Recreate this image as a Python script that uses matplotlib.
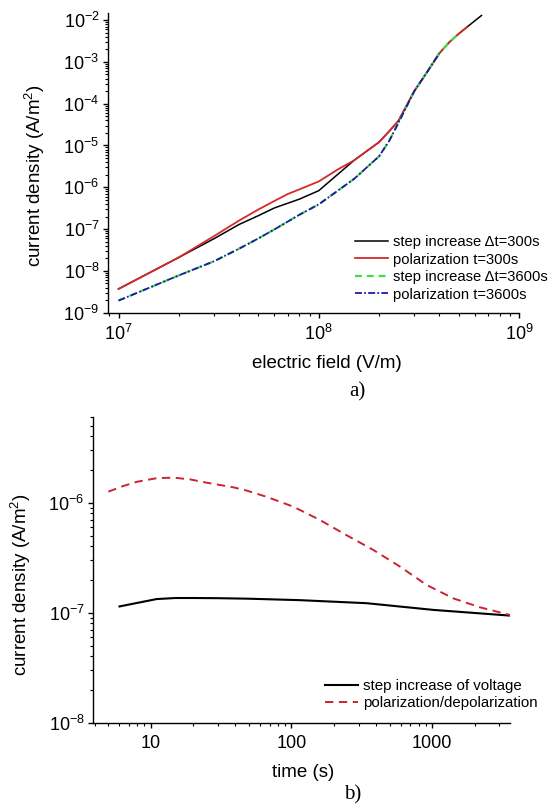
import matplotlib
matplotlib.use('Agg')
import matplotlib.pyplot as plt
from matplotlib.ticker import LogLocator, NullFormatter, LogFormatterSciNotation, FixedLocator, FixedFormatter

plt.rcParams['font.family'] = ['Liberation Sans', 'DejaVu Sans']
plt.rcParams['mathtext.fontset'] = 'custom'
plt.rcParams['mathtext.rm'] = 'Liberation Sans'
plt.rcParams['mathtext.it'] = 'Liberation Sans:italic'
plt.rcParams['lines.scale_dashes'] = False

# ---------------- data: panel a) ----------------
field_step_300 = [1e7, 2e7, 3e7, 4e7, 5e7, 6e7, 8e7, 1e8, 1.5e8, 2e8, 2.25e8, 2.5e8,
                  3e8, 3.5e8, 4e8, 4.5e8, 5e8, 5.5e8, 6e8, 6.5e8]
j_step_300 = [3.7e-9, 2.1e-8, 5.9e-8, 1.29e-7, 2.1e-7, 3.2e-7, 5.2e-7, 8.3e-7, 4.4e-6,
              1.2e-5, 2.2e-5, 3.9e-5, 2.0e-4, 6.0e-4, 1.6e-3, 3.0e-3, 4.7e-3, 6.8e-3,
              9.5e-3, 1.29e-2]

field_pol_300 = [1e7, 1.5e7, 2e7, 3e7, 4e7, 5e7, 6e7, 7e7, 8e7, 1e8, 1.25e8, 1.5e8, 2e8,
                 2.25e8, 2.5e8, 3e8, 3.5e8, 4e8, 4.5e8, 5e8, 5.5e8]
j_pol_300 = [3.7e-9, 1.02e-8, 2.1e-8, 6.8e-8, 1.6e-7, 2.95e-7, 4.7e-7, 6.9e-7, 8.9e-7,
             1.38e-6, 2.7e-6, 4.4e-6, 1.2e-5, 2.2e-5, 3.9e-5, 2.0e-4, 6.0e-4, 1.6e-3,
             3.0e-3, 4.7e-3, 6.8e-3]

field_step_3600 = [1e7, 2e7, 3e7, 4e7, 5e7, 6e7, 8e7, 1e8, 1.5e8, 2e8, 2.25e8, 2.5e8,
                   3e8, 3.5e8, 4e8, 4.5e8, 5e8]
j_step_3600 = [1.95e-9, 7.8e-9, 1.7e-8, 3.4e-8, 6.0e-8, 9.8e-8, 2.2e-7, 3.9e-7, 1.58e-6,
               5.5e-6, 1.3e-5, 3.5e-5, 2.0e-4, 6.0e-4, 1.6e-3, 3.0e-3, 4.7e-3]

field_pol_3600 = [1e7, 2e7, 3e7, 4e7, 5e7, 6e7, 8e7, 1e8, 1.5e8, 2e8, 2.25e8, 2.5e8,
                  3e8, 3.5e8, 4e8]
j_pol_3600 = [1.95e-9, 7.8e-9, 1.7e-8, 3.4e-8, 6.0e-8, 9.8e-8, 2.2e-7, 3.9e-7, 1.58e-6,
              5.5e-6, 1.3e-5, 3.5e-5, 2.0e-4, 6.0e-4, 1.6e-3]

labels_a = ['step increase \u0394t=300s', 'polarization t=300s',
            'step increase \u0394t=3600s', 'polarization t=3600s']

# ---------------- data: panel b) ----------------
t_step = [6, 11, 15, 20, 30, 50, 115, 342, 1020, 3600]
j_step = [1.14e-7, 1.33e-7, 1.36e-7, 1.36e-7, 1.355e-7, 1.34e-7, 1.30e-7, 1.22e-7,
          1.06e-7, 9.4e-8]

t_pol = [5, 6.4, 8, 11, 14.5, 19, 25, 38.6, 48, 66.7, 103, 159, 245, 381, 588, 910, 1410,
         2180, 3600]
j_pol = [1.26e-6, 1.42e-6, 1.55e-6, 1.67e-6, 1.69e-6, 1.63e-6, 1.52e-6, 1.38e-6, 1.29e-6,
         1.13e-6, 9.2e-7, 6.97e-7, 5.08e-7, 3.72e-7, 2.63e-7, 1.79e-7, 1.35e-7, 1.12e-7,
         9.5e-8]

labels_b = ['step increase of voltage', 'polarization/depolarization']
time_ticks = [10, 100, 1000]
time_tick_labels = ['10', '100', '1000']

W, H = 548, 805
fig = plt.figure(figsize=(W / 100, H / 100), dpi=100)


def style_axes(ax):
    for s in ['top', 'right']:
        ax.spines[s].set_visible(False)
    for s in ['left', 'bottom']:
        ax.spines[s].set_linewidth(1.0)
    ax.tick_params(which='major', direction='out', length=3.8, width=1.0, labelsize=13, pad=2.5)
    ax.tick_params(which='minor', direction='out', length=2.2, width=0.8)


# ---------------- panel a ----------------
ax1 = fig.add_axes([108.3 / W, 1 - 312.7 / H, (519 - 108.3) / W, 300 / H])
ax1.set_xscale('log')
ax1.set_yscale('log')
ax1.plot(field_step_300, j_step_300, color='black', lw=1.1, label=labels_a[0])
ax1.plot(field_pol_300, j_pol_300, color='#d42a2a', lw=1.3, label=labels_a[1])
ax1.plot(field_step_3600, j_step_3600, color='#44dd44', lw=1.6, ls=(0, (5, 3.5)), label=labels_a[2])
ax1.plot(field_pol_3600, j_pol_3600, color='#1a1aa8', lw=1.3, ls=(0, (5, 1.6, 1.3, 1.6)), label=labels_a[3])
ax1.set_xlim(8.89e6, 1e9)
ax1.set_ylim(1e-9, 1.5e-2)
style_axes(ax1)
ax1.xaxis.set_major_locator(LogLocator(base=10, numticks=10))
ax1.xaxis.set_minor_locator(LogLocator(base=10, subs=range(2, 10), numticks=20))
ax1.xaxis.set_minor_formatter(NullFormatter())
ax1.yaxis.set_major_locator(LogLocator(base=10, numticks=12))
ax1.yaxis.set_minor_locator(LogLocator(base=10, subs=range(2, 10), numticks=20))
ax1.yaxis.set_minor_formatter(NullFormatter())
ax1.xaxis.set_major_formatter(LogFormatterSciNotation())
ax1.yaxis.set_major_formatter(LogFormatterSciNotation())
ax1.tick_params(axis='x', which='major', pad=4)
ax1.set_xlabel('electric field (V/m)', fontsize=13.5)
ax1.set_ylabel('current density (A/m$^2$)', fontsize=13.5)
ax1.xaxis.set_label_coords(0.532, -0.14)
ax1.yaxis.set_label_coords(-0.149, 0.456)
leg1 = ax1.legend(loc='upper left', bbox_to_anchor=(355 / W, 1 - 235 / H),
                  bbox_transform=fig.transFigure, frameon=False, fontsize=10.6,
                  borderpad=0, borderaxespad=0, handlelength=2.25, handletextpad=0.34,
                  labelspacing=0.24)

# ---------------- panel b ----------------
ax2 = fig.add_axes([93.3 / W, 1 - 722.7 / H, (510 - 93.3) / W, 306 / H])
ax2.set_xscale('log')
ax2.set_yscale('log')
ax2.plot(t_step, j_step, color='black', lw=1.5, label=labels_b[0])
ax2.plot(t_pol, j_pol, color='#cc2233', lw=1.4, ls=(0, (6, 4)), label=labels_b[1])
ax2.set_xlim(3.91, 3565)
ax2.set_ylim(1e-8, 6.05e-6)
style_axes(ax2)
ax2.xaxis.set_major_locator(FixedLocator(time_ticks))
ax2.xaxis.set_major_formatter(FixedFormatter(time_tick_labels))
ax2.xaxis.set_minor_locator(LogLocator(base=10, subs=range(2, 10), numticks=20))
ax2.xaxis.set_minor_formatter(NullFormatter())
ax2.yaxis.set_major_locator(LogLocator(base=10, numticks=12))
ax2.yaxis.set_major_formatter(LogFormatterSciNotation())
ax2.yaxis.set_minor_locator(LogLocator(base=10, subs=range(2, 10), numticks=20))
ax2.yaxis.set_minor_formatter(NullFormatter())
ax2.tick_params(axis='x', which='major', pad=5)
ax2.set_xlabel('time (s)', fontsize=13.5)
ax2.set_ylabel('current density (A/m$^2$)', fontsize=13.5)
ax2.xaxis.set_label_coords(0.503, -0.135)
ax2.yaxis.set_label_coords(-0.145, 0.45)
leg2 = ax2.legend(loc='upper left', bbox_to_anchor=(325 / W, 1 - 679 / H),
                  bbox_transform=fig.transFigure, frameon=False, fontsize=10.8,
                  borderpad=0, borderaxespad=0, handlelength=2.2, handletextpad=0.33,
                  labelspacing=0.22)

fig.text(357 / W, 1 - 392 / H, 'a)', family=['Liberation Serif', 'DejaVu Serif'],
         fontsize=15, ha='center', va='center')
fig.text(353 / W, 1 - 795 / H, 'b)', family=['Liberation Serif', 'DejaVu Serif'],
         fontsize=15, ha='center', va='center')

fig.savefig('out.png', dpi=100)
